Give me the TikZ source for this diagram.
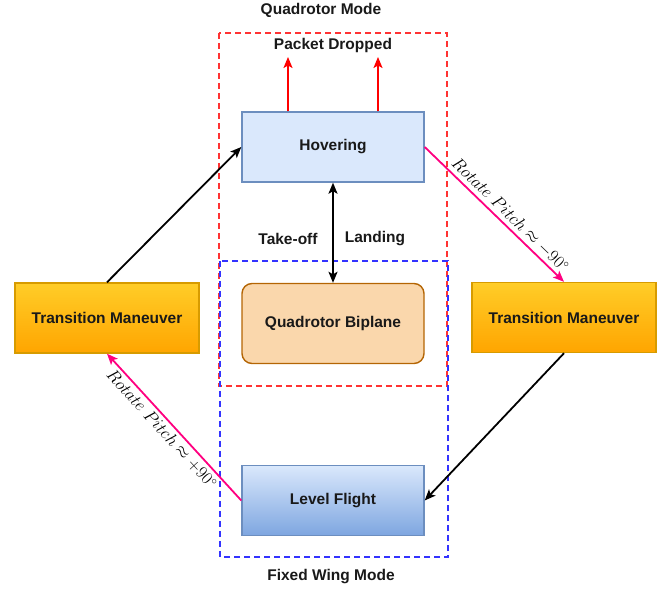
\documentclass[tikz,border=0pt]{standalone}
\usepackage{fontspec}
\newfontfamily\arialfont{Liberation Sans}
\usetikzlibrary{arrows.meta}
\definecolor{hovfill}{HTML}{DAE8FC}
\definecolor{hovdraw}{HTML}{6C8EBF}
\definecolor{qbfill}{HTML}{FAD7AC}
\definecolor{qbdraw}{HTML}{B46504}
\definecolor{lfbot}{HTML}{7EA6E0}
\definecolor{tmtop}{HTML}{FFCD28}
\definecolor{tmbot}{HTML}{FFA500}
\definecolor{tmdraw}{HTML}{D79B00}
\definecolor{pinkline}{HTML}{FF0080}
\definecolor{redbox}{HTML}{FF3333}
\definecolor{bluebox}{HTML}{3333FF}
\begin{document}
\begin{tikzpicture}[x=1pt,y=-1pt,
  lbl/.style={font=\arialfont\bfseries\fontsize{15.5}{18}\selectfont, text=black!90},
  box/.style={lbl, draw, line width=1.4pt, minimum width=182pt, minimum height=70pt, inner sep=0pt},
  conn/.style={line width=1.8pt, -{Stealth[length=11pt,width=9pt,inset=2.5pt]}},
  dconn/.style={line width=1.8pt, {Stealth[length=11pt,width=9pt,inset=2.5pt]}-{Stealth[length=11pt,width=9pt,inset=2.5pt]}},
  frame/.style={line width=1.7pt, dash pattern=on 6pt off 4pt},
  mlbl/.style={font=\fontsize{16}{19}\selectfont, text=black, sloped, inner sep=3pt}
]
\useasboundingbox (0,0) rectangle (662,591);
\draw[frame, redbox] (219,33) rectangle (447,386);
\draw[frame, bluebox] (220,261) rectangle (448,557);

\node[box, fill=hovfill, draw=hovdraw] (hov) at (333,147) {Hovering};
\node[box, fill=qbfill, draw=qbdraw, rounded corners=10pt, minimum height=80pt] (qb) at (333,323.5) {Quadrotor Biplane};
\node[box, top color=hovfill, bottom color=lfbot, draw=hovdraw] (lf) at (333,500.5) {Level Flight};
\node[box, top color=tmtop, bottom color=tmbot, draw=tmdraw, minimum width=184pt] (ltm) at (107,318) {Transition Maneuver};
\node[box, top color=tmtop, bottom color=tmbot, draw=tmdraw, minimum width=184pt] (rtm) at (564,317.5) {Transition Maneuver};

\node[lbl] (qmode) at (321,10) {Quadrotor Mode};
\node[lbl] (pd) at (333,45) {Packet Dropped};
\node[lbl] (fwm) at (331,577) {Fixed Wing Mode};
\node[lbl] (to) at (288,239) {Take-off};
\node[lbl] (ld) at (375,239) {Landing};

\coordinate (p1) at (288,57);
\coordinate (p2) at (378,57);
\draw[conn, red] (hov.north -| p1) -- (p1);
\draw[conn, red] (hov.north -| p2) -- (p2);

\draw[dconn] (hov) -- (qb);
\draw[conn] (ltm.north) -- (hov.west);
\draw[conn, pinkline] (hov.east) -- node[mlbl, above, pos=0.56] {$Rotate\ Pitch \approx -90^{\circ}$} (rtm.north);
\draw[conn] (rtm.south) -- (lf.east);
\draw[conn, pinkline] (lf.west) -- node[mlbl, below, pos=0.535] {$Rotate\ Pitch \approx +90^{\circ}$} (ltm.south);
\end{tikzpicture}
\end{document}
